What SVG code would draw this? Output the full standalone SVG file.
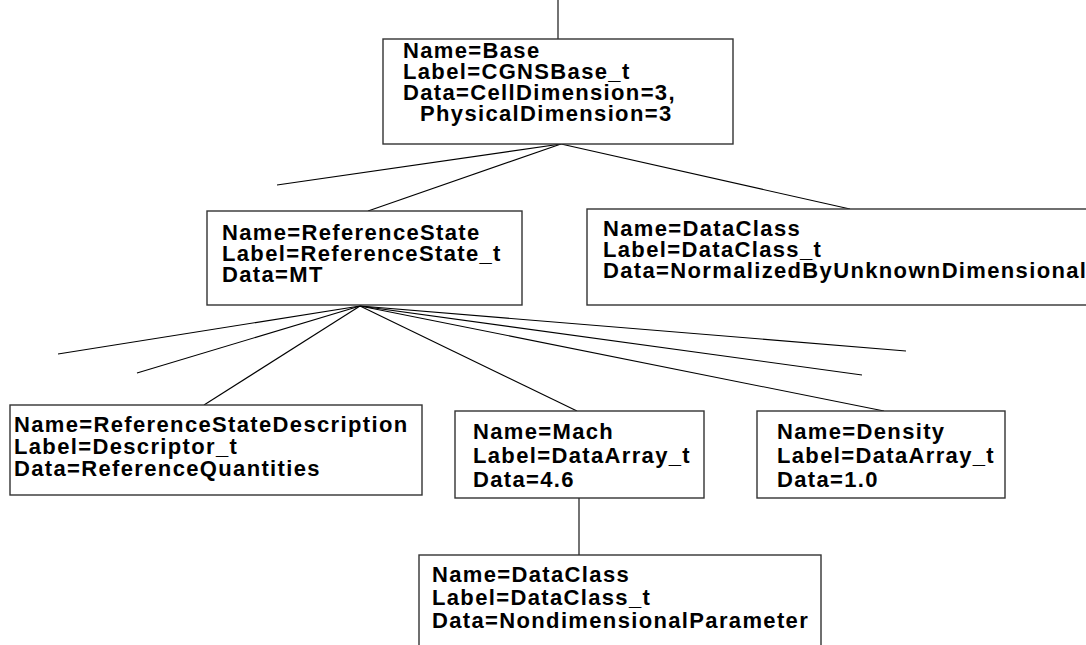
<svg xmlns="http://www.w3.org/2000/svg" width="1086" height="645" viewBox="0 0 1086 645">
<style>
.box{fill:#fff;stroke:#333;stroke-width:1.4}
.t{font-family:"Liberation Sans",Arial,sans-serif;font-weight:bold;font-size:22px;letter-spacing:1.35px;fill:#000}
.c line{stroke:#000;stroke-width:1.1}
</style>
<rect width="1086" height="645" fill="#fff"/>
<g class="c" id="connectors">
<line x1="558" y1="0" x2="558" y2="39"/>
<line x1="561" y1="144" x2="277" y2="185"/>
<line x1="561" y1="144" x2="368" y2="211"/>
<line x1="561" y1="144" x2="850" y2="209"/>
<line x1="360" y1="306" x2="58" y2="354"/>
<line x1="360" y1="306" x2="137" y2="373"/>
<line x1="360" y1="306" x2="204" y2="405"/>
<line x1="360" y1="306" x2="577" y2="411"/>
<line x1="360" y1="306" x2="884" y2="411"/>
<line x1="360" y1="306" x2="862" y2="375"/>
<line x1="360" y1="306" x2="906" y2="351"/>
<line x1="579" y1="498" x2="579" y2="555"/>
</g>
<g id="base">
<rect class="box" x="383" y="39" width="350" height="105"/>
<text class="t" x="403" y="58">Name=Base</text>
<text class="t" x="403" y="79">Label=CGNSBase_t</text>
<text class="t" x="403" y="100">Data=CellDimension=3,</text>
<text class="t" x="420" y="121">PhysicalDimension=3</text>
</g>
<g id="refstate">
<rect class="box" x="207" y="211" width="315" height="94"/>
<text class="t" x="222" y="240">Name=ReferenceState</text>
<text class="t" x="222" y="261">Label=ReferenceState_t</text>
<text class="t" x="222" y="282">Data=MT</text>
</g>
<g id="dataclass1">
<rect class="box" x="587" y="209" width="520" height="96"/>
<text class="t" x="603" y="236">Name=DataClass</text>
<text class="t" x="603" y="257">Label=DataClass_t</text>
<text class="t" x="603" y="278">Data=NormalizedByUnknownDimensional</text>
</g>
<g id="rsd">
<rect class="box" x="10" y="405" width="412" height="90"/>
<text class="t" x="14" y="432">Name=ReferenceStateDescription</text>
<text class="t" x="14" y="454">Label=Descriptor_t</text>
<text class="t" x="14" y="476">Data=ReferenceQuantities</text>
</g>
<g id="mach">
<rect class="box" x="455" y="411" width="249" height="87"/>
<text class="t" x="473" y="439">Name=Mach</text>
<text class="t" x="473" y="463">Label=DataArray_t</text>
<text class="t" x="473" y="487">Data=4.6</text>
</g>
<g id="density">
<rect class="box" x="757" y="411" width="248" height="87"/>
<text class="t" x="777" y="439">Name=Density</text>
<text class="t" x="777" y="463">Label=DataArray_t</text>
<text class="t" x="777" y="487">Data=1.0</text>
</g>
<g id="dataclass2">
<rect class="box" x="419" y="555" width="402" height="110"/>
<text class="t" x="432" y="582">Name=DataClass</text>
<text class="t" x="432" y="605">Label=DataClass_t</text>
<text class="t" x="432" y="628">Data=NondimensionalParameter</text>
</g>
</svg>
